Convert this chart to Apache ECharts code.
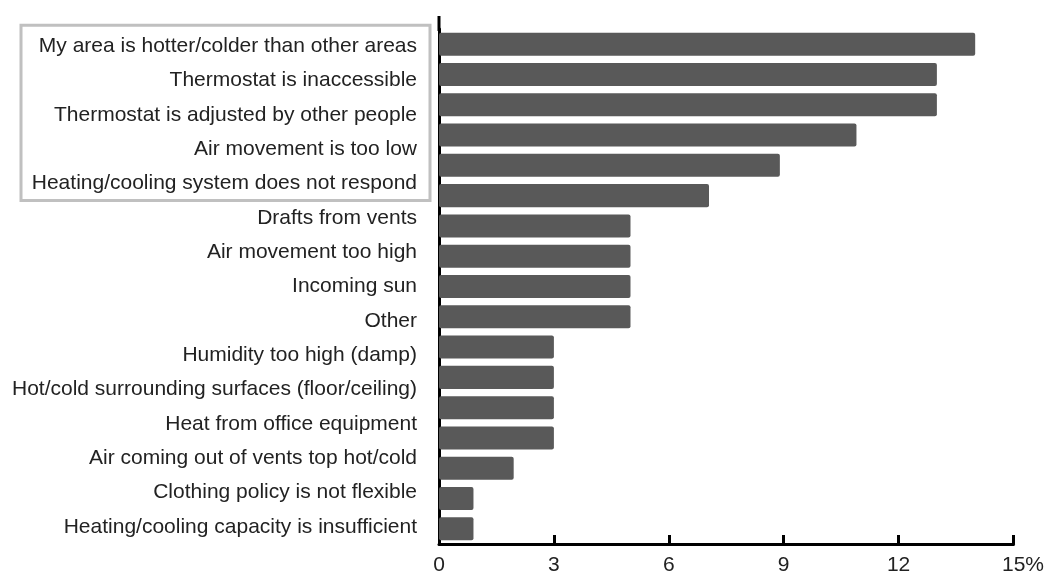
<!DOCTYPE html>
<html>
<head>
<meta charset="utf-8">
<script src="https://cdn.jsdelivr.net/npm/echarts@6/dist/echarts.min.js"></script>
<style>
  html, body { margin: 0; padding: 0; background: #ffffff; }
  #chart { width: 1047px; height: 576px; }
</style>
</head>
<body>
<div id="chart"></div>
<script>
// Row labels (as printed in the reference, 15 of them)
const labels = [
  'My area is hotter/colder than other areas',
  'Thermostat is inaccessible',
  'Thermostat is adjusted by other people',
  'Air movement is too low',
  'Heating/cooling system does not respond',
  'Drafts from vents',
  'Air movement too high',
  'Incoming sun',
  'Other',
  'Humidity too high (damp)',
  'Hot/cold surrounding surfaces (floor/ceiling)',
  'Heat from office equipment',
  'Air coming out of vents top hot/cold',
  'Clothing policy is not flexible',
  'Heating/cooling capacity is insufficient'
];
// Bar values in percent (17 bars drawn in the reference)
const values = [14, 13, 13, 10.9, 8.9, 7.05, 5, 5, 5, 5, 3, 3, 3, 3, 1.95, 0.9, 0.9];
// x-axis ticks
const xTicks = [0, 3, 6, 9, 12, 15];
const barKeys = values.map((_, i) => 'bar' + (i + 1));

const chart = echarts.init(document.getElementById('chart'), null, { renderer: 'canvas' });
const FONT = '"Liberation Sans", Arial, sans-serif';

chart.setOption({
  animation: false,
  backgroundColor: '#ffffff',
  grid: { left: 439, right: 29, top: 29, bottom: 32 },
  xAxis: {
    type: 'value',
    min: xTicks[0],
    max: xTicks[xTicks.length - 1],
    interval: xTicks[1] - xTicks[0],
    splitLine: { show: false },
    axisLine: { show: true, lineStyle: { color: '#000', width: 3 } },
    axisTick: { show: true, inside: true, length: 9, lineStyle: { color: '#000', width: 3 } },
    axisLabel: {
      margin: 11,
      color: '#222',
      fontFamily: FONT,
      fontSize: 21,
      formatter: v => v === 15 ? '{p|15%}' : String(v),
      rich: { p: { padding: [0, 0, 0, 19], fontSize: 21, fontFamily: FONT, color: '#222' } }
    }
  },
  yAxis: [
    {
      type: 'category',
      inverse: true,
      data: barKeys,
      axisLine: { show: true, lineStyle: { color: '#000', width: 3 } },
      axisTick: { show: false },
      axisLabel: { show: false },
      splitLine: { show: false }
    },
    {
      type: 'category',
      inverse: true,
      position: 'left',
      data: labels,
      axisLine: { show: false },
      axisTick: { show: false },
      splitLine: { show: false },
      axisLabel: {
        show: true,
        margin: 22,
        color: '#222',
        fontFamily: FONT,
        fontSize: 21,
        padding: [0, 0, 5, 0]
      }
    }
  ],
  series: [{
    type: 'bar',
    yAxisIndex: 0,
    data: values,
    barCategoryGap: '24%',
    itemStyle: { color: '#595959', borderRadius: 2 },
    silent: true
  }]
});

// extend the vertical axis line above the first bar, as in the reference,
// and draw the grey frame around the first five labels
const x0 = chart.convertToPixel({ xAxisIndex: 0 }, 0);
const lblTop = chart.convertToPixel({ yAxisIndex: 1 }, labels[0]);
const lblFive = chart.convertToPixel({ yAxisIndex: 1 }, labels[4]);
chart.setOption({
  graphic: [
    { type: 'line', shape: { x1: x0, y1: 16, x2: x0, y2: 31 }, style: { stroke: '#000', lineWidth: 3 } },
    { type: 'rect', shape: { x: 21, y: lblTop - 21, width: 409, height: (lblFive - lblTop) + 38 },
      style: { fill: 'none', stroke: '#c0c0c0', lineWidth: 3 } }
  ]
});
</script>
</body>
</html>
